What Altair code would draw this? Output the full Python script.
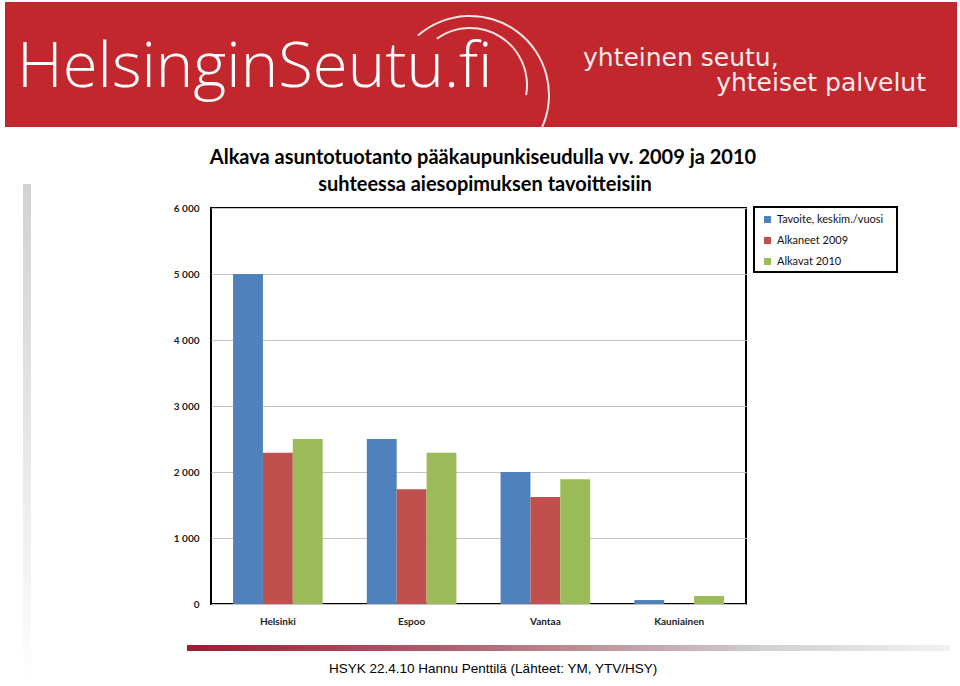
import altair as alt
import pandas as pd
import math

# ---- data ----
cities = ["Helsinki", "Espoo", "Vantaa", "Kauniainen"]
series = ["Tavoite, keskim./vuosi", "Alkaneet 2009", "Alkavat 2010"]
tavoite = [5000, 2500, 2000, 60]
alkaneet_2009 = [2290, 1740, 1620, 0]
alkavat_2010 = [2500, 2290, 1890, 120]
y_ticks = [0, 1000, 2000, 3000, 4000, 5000, 6000]
colors = ["#4F81BD", "#C0504D", "#9BBB59"]

title_1 = "Alkava asuntotuotanto pääkaupunkiseudulla vv. 2009 ja 2010"
title_2 = "suhteessa aiesopimuksen tavoitteisiin"
logo_text = "HelsinginSeutu.fi"
slogan_1 = "yhteinen seutu,"
slogan_2 = "yhteiset palvelut"
footer = "HSYK 22.4.10 Hannu Penttilä   (Lähteet: YM, YTV/HSY)"

rows = []
for vals, s in zip([tavoite, alkaneet_2009, alkavat_2010], series):
    for c, v in zip(cities, vals):
        rows.append({"kunta": c, "sarja": s, "arvo": v})
df = pd.DataFrame(rows)

W, H = 535, 396
PL, PT = 211, 208
TAU = 2 * math.pi

bars = alt.Chart(df).mark_bar().encode(
    x=alt.X("kunta:N", sort=cities, title=None,
            scale=alt.Scale(paddingInner=0.33, paddingOuter=0.165),
            axis=alt.Axis(labelAngle=0, domain=False, ticks=False, labelPadding=12,
                          labelFont="Lato", labelFontSize=10, labelFontWeight="bold",
                          labelColor="#222222")),
    xOffset=alt.XOffset("sarja:N", sort=series, scale=alt.Scale(paddingInner=0, paddingOuter=0)),
    y=alt.Y("arvo:Q", title=None, scale=alt.Scale(domain=[0, 6000], nice=False),
            axis=alt.Axis(values=y_ticks, domain=False, ticks=False, labelPadding=12,
                          labelExpr="replace(format(datum.value, ','), ',', ' ')",
                          labelFont="Lato", labelFontSize=10, labelFontWeight="bold",
                          labelColor="#222222", gridColor="#C4C4C4", gridWidth=1)),
    color=alt.Color("sarja:N", sort=series,
                    scale=alt.Scale(domain=series, range=colors),
                    legend=alt.Legend(title=None, orient="none", legendX=543, legendY=-2,
                                      padding=8, rowPadding=9, symbolType="square",
                                      symbolSize=49, symbolStrokeWidth=0,
                                      labelFont="Lato", labelFontSize=11, labelColor="#111111",
                                      labelLimit=300)),
)

one = pd.DataFrame({"t": [""]})

def text_layer(txt, x, y, **kw):
    return alt.Chart(pd.DataFrame({"t": [txt]})).mark_text(**kw).encode(
        text="t:N", x=alt.value(x), y=alt.value(y))

banner = alt.Chart(one).mark_rect(color="#C1272D").encode(
    x=alt.value(5 - PL), x2=alt.value(957 - PL), y=alt.value(2 - PT), y2=alt.value(127 - PT))

arc_big = alt.Chart(one).mark_arc(radius=80, radius2=78, theta=TAU - 0.72, theta2=TAU + 2.0,
                                  color="#F4E4E4").encode(
    x=alt.value(470 - PL), y=alt.value(95 - PT))
arc_small = alt.Chart(one).mark_arc(radius=58, radius2=56, theta=TAU - 0.62, theta2=TAU + 1.75,
                                    color="#F4E4E4").encode(
    x=alt.value(470 - PL), y=alt.value(85 - PT))

logo = text_layer(logo_text, 17 - PL, 87 - PT, align="left", baseline="alphabetic",
                  font="Open Sans", fontSize=63.5, fontWeight=300, color="white")
s1 = text_layer(slogan_1, 583 - PL, 58 - PT, align="left", baseline="middle",
                font="DejaVu Sans", fontSize=25, color="#F6EAEA")
s2 = text_layer(slogan_2, 926 - PL, 83 - PT, align="right", baseline="middle",
                font="DejaVu Sans", fontSize=25, color="#F6EAEA")

t1 = text_layer(title_1, 483 - PL, 158 - PT, align="center", baseline="middle",
                font="Lato", fontSize=20, fontWeight="bold", color="black")
t2 = text_layer(title_2, 485 - PL, 185 - PT, align="center", baseline="middle",
                font="Lato", fontSize=20, fontWeight="bold", color="black")

left_bar = alt.Chart(one).mark_rect(
    fill=alt.Gradient(gradient="linear", x1=0, x2=0, y1=0, y2=1,
                      stops=[alt.GradientStop(color="#D2D2D2", offset=0),
                             alt.GradientStop(color="#E6E6E6", offset=0.5),
                             alt.GradientStop(color="#FFFFFF", offset=1)])
).encode(x=alt.value(23 - PL), x2=alt.value(31 - PL), y=alt.value(184 - PT), y2=alt.value(686 - PT))

foot_line = alt.Chart(one).mark_rect(
    fill=alt.Gradient(gradient="linear", x1=0, x2=1, y1=0, y2=0,
                      stops=[alt.GradientStop(color="#9E1B32", offset=0),
                             alt.GradientStop(color="#B06070", offset=0.35),
                             alt.GradientStop(color="#CFCFCF", offset=0.75),
                             alt.GradientStop(color="#F2F2F2", offset=1)])
).encode(x=alt.value(187 - PL), x2=alt.value(950 - PL), y=alt.value(645 - PT), y2=alt.value(651 - PT))

foot = text_layer(footer, 329 - PL, 669 - PT, align="left", baseline="middle",
                  font="Liberation Sans", fontSize=13.5, color="black")

legend_box = alt.Chart(one).mark_rect(fill="white", stroke="black", strokeWidth=2).encode(
    x=alt.value(754 - PL), x2=alt.value(897 - PL), y=alt.value(207 - PT), y2=alt.value(272 - PT))

chart = alt.layer(
    banner, arc_big, arc_small, logo, s1, s2, t1, t2, left_bar, foot_line, foot, legend_box, bars
).properties(
    width=W, height=H,
    autosize=alt.AutoSizeParams(type="none"),
    padding={"left": PL, "top": PT, "right": 960 - PL - W, "bottom": 686 - PT - H},
    background="white",
).configure_view(stroke="black", strokeWidth=2)

chart.save("out.html", embed_options={"renderer": "svg", "actions": False})
